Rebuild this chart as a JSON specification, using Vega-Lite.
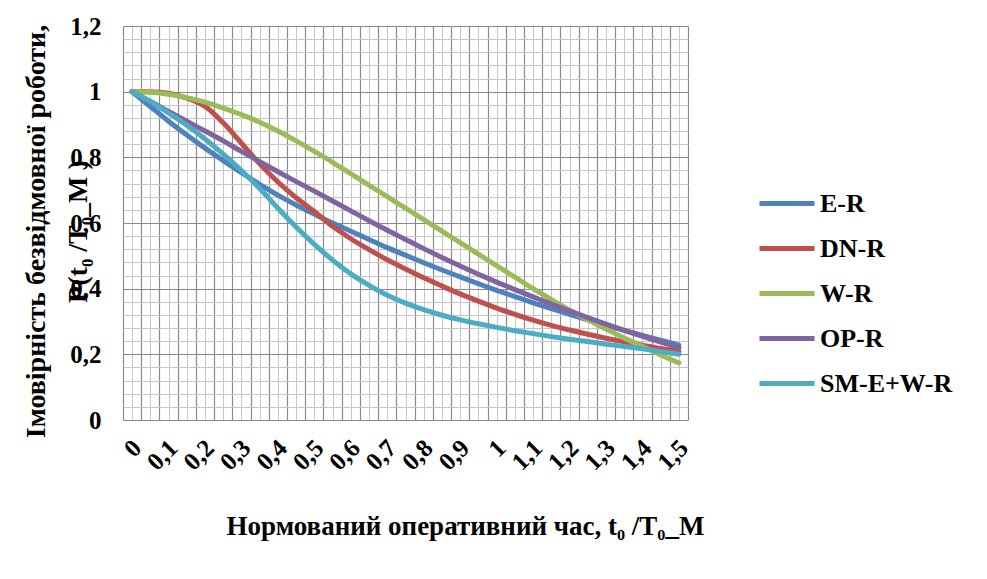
{
  "$schema": "https://vega.github.io/schema/vega-lite/v6.json",
  "width": 565,
  "height": 394,
  "autosize": {"type": "none"},
  "padding": {"left": 123, "top": 26, "right": 299, "bottom": 159},
  "background": "white",
  "config": {"view": {"stroke": null}, "font": "Liberation Serif"},
  "datasets": {
    "series": [
      {"s":"E-R","t":0,"p":1},{"s":"E-R","t":0.05,"p":0.955},{"s":"E-R","t":0.1,"p":0.91},{"s":"E-R","t":0.15,"p":0.868},{"s":"E-R","t":0.2,"p":0.828},{"s":"E-R","t":0.25,"p":0.79},{"s":"E-R","t":0.3,"p":0.753},{"s":"E-R","t":0.35,"p":0.718},{"s":"E-R","t":0.4,"p":0.685},{"s":"E-R","t":0.45,"p":0.655},{"s":"E-R","t":0.5,"p":0.627},{"s":"E-R","t":0.55,"p":0.6},{"s":"E-R","t":0.6,"p":0.575},{"s":"E-R","t":0.65,"p":0.55},{"s":"E-R","t":0.7,"p":0.525},{"s":"E-R","t":0.75,"p":0.502},{"s":"E-R","t":0.8,"p":0.479},{"s":"E-R","t":0.85,"p":0.457},{"s":"E-R","t":0.9,"p":0.436},{"s":"E-R","t":0.95,"p":0.415},{"s":"E-R","t":1,"p":0.395},{"s":"E-R","t":1.05,"p":0.376},{"s":"E-R","t":1.1,"p":0.357},{"s":"E-R","t":1.15,"p":0.339},{"s":"E-R","t":1.2,"p":0.322},{"s":"E-R","t":1.25,"p":0.305},{"s":"E-R","t":1.3,"p":0.289},{"s":"E-R","t":1.35,"p":0.273},{"s":"E-R","t":1.4,"p":0.258},{"s":"E-R","t":1.45,"p":0.243},{"s":"E-R","t":1.5,"p":0.228},
      {"s":"DN-R","t":0,"p":1},{"s":"DN-R","t":0.05,"p":1},{"s":"DN-R","t":0.1,"p":0.995},{"s":"DN-R","t":0.15,"p":0.98},{"s":"DN-R","t":0.2,"p":0.955},{"s":"DN-R","t":0.25,"p":0.905},{"s":"DN-R","t":0.3,"p":0.843},{"s":"DN-R","t":0.35,"p":0.78},{"s":"DN-R","t":0.4,"p":0.725},{"s":"DN-R","t":0.45,"p":0.677},{"s":"DN-R","t":0.5,"p":0.635},{"s":"DN-R","t":0.55,"p":0.59},{"s":"DN-R","t":0.6,"p":0.552},{"s":"DN-R","t":0.65,"p":0.519},{"s":"DN-R","t":0.7,"p":0.488},{"s":"DN-R","t":0.75,"p":0.46},{"s":"DN-R","t":0.8,"p":0.433},{"s":"DN-R","t":0.85,"p":0.408},{"s":"DN-R","t":0.9,"p":0.384},{"s":"DN-R","t":0.95,"p":0.362},{"s":"DN-R","t":1,"p":0.341},{"s":"DN-R","t":1.05,"p":0.322},{"s":"DN-R","t":1.1,"p":0.304},{"s":"DN-R","t":1.15,"p":0.288},{"s":"DN-R","t":1.2,"p":0.274},{"s":"DN-R","t":1.25,"p":0.261},{"s":"DN-R","t":1.3,"p":0.249},{"s":"DN-R","t":1.35,"p":0.238},{"s":"DN-R","t":1.4,"p":0.228},{"s":"DN-R","t":1.45,"p":0.218},{"s":"DN-R","t":1.5,"p":0.208},
      {"s":"W-R","t":0,"p":1},{"s":"W-R","t":0.05,"p":0.998},{"s":"W-R","t":0.1,"p":0.992},{"s":"W-R","t":0.15,"p":0.982},{"s":"W-R","t":0.2,"p":0.968},{"s":"W-R","t":0.25,"p":0.95},{"s":"W-R","t":0.3,"p":0.93},{"s":"W-R","t":0.35,"p":0.907},{"s":"W-R","t":0.4,"p":0.88},{"s":"W-R","t":0.45,"p":0.85},{"s":"W-R","t":0.5,"p":0.818},{"s":"W-R","t":0.55,"p":0.785},{"s":"W-R","t":0.6,"p":0.75},{"s":"W-R","t":0.65,"p":0.715},{"s":"W-R","t":0.7,"p":0.68},{"s":"W-R","t":0.75,"p":0.645},{"s":"W-R","t":0.8,"p":0.61},{"s":"W-R","t":0.85,"p":0.575},{"s":"W-R","t":0.9,"p":0.54},{"s":"W-R","t":0.95,"p":0.505},{"s":"W-R","t":1,"p":0.47},{"s":"W-R","t":1.05,"p":0.435},{"s":"W-R","t":1.1,"p":0.4},{"s":"W-R","t":1.15,"p":0.367},{"s":"W-R","t":1.2,"p":0.335},{"s":"W-R","t":1.25,"p":0.305},{"s":"W-R","t":1.3,"p":0.277},{"s":"W-R","t":1.35,"p":0.25},{"s":"W-R","t":1.4,"p":0.224},{"s":"W-R","t":1.45,"p":0.198},{"s":"W-R","t":1.5,"p":0.174},
      {"s":"OP-R","t":0,"p":1},{"s":"OP-R","t":0.05,"p":0.97},{"s":"OP-R","t":0.1,"p":0.94},{"s":"OP-R","t":0.15,"p":0.91},{"s":"OP-R","t":0.2,"p":0.88},{"s":"OP-R","t":0.25,"p":0.85},{"s":"OP-R","t":0.3,"p":0.818},{"s":"OP-R","t":0.35,"p":0.787},{"s":"OP-R","t":0.4,"p":0.756},{"s":"OP-R","t":0.45,"p":0.726},{"s":"OP-R","t":0.5,"p":0.697},{"s":"OP-R","t":0.55,"p":0.667},{"s":"OP-R","t":0.6,"p":0.637},{"s":"OP-R","t":0.65,"p":0.607},{"s":"OP-R","t":0.7,"p":0.578},{"s":"OP-R","t":0.75,"p":0.55},{"s":"OP-R","t":0.8,"p":0.522},{"s":"OP-R","t":0.85,"p":0.495},{"s":"OP-R","t":0.9,"p":0.469},{"s":"OP-R","t":0.95,"p":0.444},{"s":"OP-R","t":1,"p":0.42},{"s":"OP-R","t":1.05,"p":0.397},{"s":"OP-R","t":1.1,"p":0.375},{"s":"OP-R","t":1.15,"p":0.353},{"s":"OP-R","t":1.2,"p":0.332},{"s":"OP-R","t":1.25,"p":0.312},{"s":"OP-R","t":1.3,"p":0.292},{"s":"OP-R","t":1.35,"p":0.273},{"s":"OP-R","t":1.4,"p":0.255},{"s":"OP-R","t":1.45,"p":0.237},{"s":"OP-R","t":1.5,"p":0.22},
      {"s":"SM-E+W-R","t":0,"p":1},{"s":"SM-E+W-R","t":0.05,"p":0.97},{"s":"SM-E+W-R","t":0.1,"p":0.935},{"s":"SM-E+W-R","t":0.15,"p":0.898},{"s":"SM-E+W-R","t":0.2,"p":0.856},{"s":"SM-E+W-R","t":0.25,"p":0.81},{"s":"SM-E+W-R","t":0.3,"p":0.76},{"s":"SM-E+W-R","t":0.35,"p":0.705},{"s":"SM-E+W-R","t":0.4,"p":0.645},{"s":"SM-E+W-R","t":0.45,"p":0.588},{"s":"SM-E+W-R","t":0.5,"p":0.535},{"s":"SM-E+W-R","t":0.55,"p":0.487},{"s":"SM-E+W-R","t":0.6,"p":0.445},{"s":"SM-E+W-R","t":0.65,"p":0.41},{"s":"SM-E+W-R","t":0.7,"p":0.38},{"s":"SM-E+W-R","t":0.75,"p":0.356},{"s":"SM-E+W-R","t":0.8,"p":0.336},{"s":"SM-E+W-R","t":0.85,"p":0.319},{"s":"SM-E+W-R","t":0.9,"p":0.305},{"s":"SM-E+W-R","t":0.95,"p":0.293},{"s":"SM-E+W-R","t":1,"p":0.282},{"s":"SM-E+W-R","t":1.05,"p":0.272},{"s":"SM-E+W-R","t":1.1,"p":0.263},{"s":"SM-E+W-R","t":1.15,"p":0.254},{"s":"SM-E+W-R","t":1.2,"p":0.246},{"s":"SM-E+W-R","t":1.25,"p":0.239},{"s":"SM-E+W-R","t":1.3,"p":0.231},{"s":"SM-E+W-R","t":1.35,"p":0.224},{"s":"SM-E+W-R","t":1.4,"p":0.217},{"s":"SM-E+W-R","t":1.45,"p":0.209},{"s":"SM-E+W-R","t":1.5,"p":0.2}
    ]
  },
  "data": {"name": "series"},
  "layer": [
    {
      "mark": {"type": "line", "opacity": 0},
      "encoding": {
        "x": {"field": "t", "type": "quantitative", "scale": {"domain": [-0.025, 1.525], "nice": false, "zero": false},
          "axis": {"orient": "bottom", "grid": true, "gridColor": "#c6c6c6", "gridWidth": 1, "labels": false, "ticks": false, "domain": false, "title": null, "zindex": 0,
            "values": [0,0.05,0.1,0.15,0.2,0.25,0.3,0.35,0.4,0.45,0.5,0.55,0.6,0.65,0.7,0.75,0.8,0.85,0.9,0.95,1,1.05,1.1,1.15,1.2,1.25,1.3,1.35,1.4,1.45,1.5]}},
        "y": {"field": "p", "type": "quantitative", "scale": {"domain": [0, 1.2], "nice": false},
          "axis": {"orient": "left", "grid": true, "gridColor": "#c6c6c6", "gridWidth": 1, "labels": false, "ticks": false, "domain": false, "title": null, "zindex": 0,
            "values": [0.04,0.08,0.12,0.16,0.24,0.28,0.32,0.36,0.44,0.48,0.52,0.56,0.64,0.68,0.72,0.76,0.84,0.88,0.92,0.96,1.04,1.08,1.12,1.16]}},
        "detail": {"field": "s"}
      }
    },
    {
      "mark": {"type": "line", "opacity": 0},
      "encoding": {
        "x": {"field": "t", "type": "quantitative", "scale": {"domain": [-0.025, 1.525], "nice": false, "zero": false},
          "axis": {"orient": "bottom", "grid": true, "gridColor": "#8a8a8a", "gridWidth": 1.2, "labels": false, "ticks": false, "domain": false, "title": null, "zindex": 0,
            "values": [-0.025,0.025,0.075,0.125,0.175,0.225,0.275,0.325,0.375,0.425,0.475,0.525,0.575,0.625,0.675,0.725,0.775,0.825,0.875,0.925,0.975,1.025,1.075,1.125,1.175,1.225,1.275,1.325,1.375,1.425,1.475,1.525]}},
        "y": {"field": "p", "type": "quantitative", "scale": {"domain": [0, 1.2], "nice": false},
          "axis": {"orient": "left", "grid": true, "gridColor": "#8a8a8a", "gridWidth": 1.2, "labels": false, "ticks": false, "domain": false, "title": null, "zindex": 0,
            "values": [0,0.2,0.4,0.6,0.8,1,1.2]}},
        "detail": {"field": "s"}
      }
    },
    {
      "mark": {"type": "line", "strokeWidth": 5, "interpolate": "monotone", "strokeCap": "round"},
      "encoding": {
        "x": {"field": "t", "type": "quantitative", "scale": {"domain": [-0.025, 1.525], "nice": false, "zero": false},
          "axis": {"orient": "bottom", "grid": false, "ticks": false, "domain": false, "zindex": 1, "labelOverlap": false,
            "values": [0,0.1,0.2,0.3,0.4,0.5,0.6,0.7,0.8,0.9,1,1.1,1.2,1.3,1.4,1.5],
            "labelExpr": "replace(format(datum.value, '.1~f'), '.', ',')",
            "labelAngle": -45, "labelFont": "Liberation Serif", "labelFontWeight": "bold", "labelFontSize": 25, "labelColor": "black", "labelPadding": 15, "labelOffset": -4,
            "title": "Нормований оперативний час, t₀ /T₀_М",
            "titleFont": "Liberation Serif", "titleFontWeight": "bold", "titleFontSize": 27, "titleColor": "black",
            "titleX": 342, "titleY": 114, "titleBaseline": "alphabetic", "titleAlign": "center"}},
        "y": {"field": "p", "type": "quantitative", "scale": {"domain": [0, 1.2], "nice": false},
          "axis": {"orient": "left", "grid": false, "ticks": false, "domain": false, "zindex": 1, "labelOverlap": false,
            "values": [0,0.2,0.4,0.6,0.8,1,1.2],
            "labelExpr": "replace(format(datum.value, '.1~f'), '.', ',')",
            "labelFont": "Liberation Serif", "labelFontWeight": "bold", "labelFontSize": 25, "labelColor": "black", "labelPadding": 22,
            "title": ["Імовірність безвідмовної роботи,", "P(t₀ /T₀_М )"],
            "titleFont": "Liberation Serif", "titleFontWeight": "bold", "titleFontSize": 28, "titleColor": "black",
            "titleLineHeight": 42, "titleAngle": -90, "titleX": -79, "titleY": 205, "titleBaseline": "alphabetic", "titleAlign": "center"}},
        "color": {"field": "s", "type": "nominal",
          "scale": {"domain": ["E-R", "DN-R", "W-R", "OP-R", "SM-E+W-R"], "range": ["#4F81BD", "#C0504D", "#9BBB59", "#8064A2", "#4BACC6"]},
          "legend": {"orient": "none", "legendX": 634, "legendY": 155, "title": null, "symbolType": "stroke", "symbolSize": 3025, "symbolStrokeWidth": 5,
            "labelFont": "Liberation Serif", "labelFontWeight": "bold", "labelFontSize": 26, "labelColor": "black", "labelOffset": 3,
            "clipHeight": 45, "rowPadding": 0, "padding": 0}}
      }
    }
  ],
  "resolve": {"axis": {"x": "independent", "y": "independent"}}
}
